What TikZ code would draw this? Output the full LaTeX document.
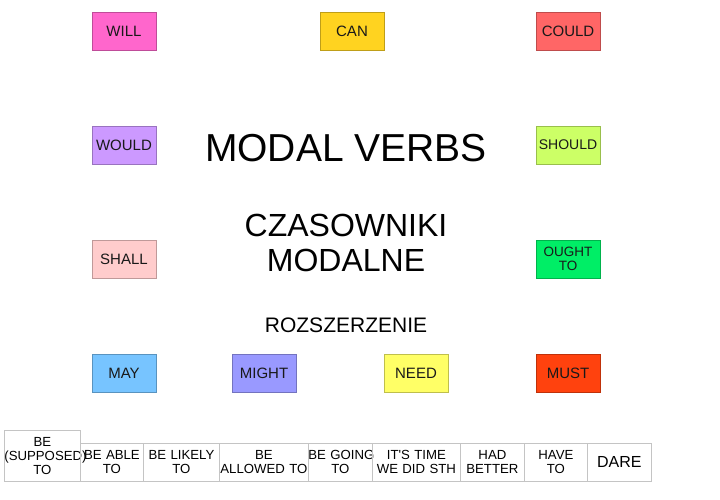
\documentclass[tikz,border=0pt]{standalone}
\usepackage{fontspec}
\setmainfont{Liberation Sans}
\definecolor{cwill}{HTML}{FF66CC}
\definecolor{ccan}{HTML}{FFD320}
\definecolor{ccould}{HTML}{FF6666}
\definecolor{cwould}{HTML}{CC99FF}
\definecolor{cshould}{HTML}{CCFF66}
\definecolor{cshall}{HTML}{FFCCCC}
\definecolor{cought}{HTML}{00EE66}
\definecolor{cmay}{HTML}{77C4FF}
\definecolor{cmight}{HTML}{9999FF}
\definecolor{cneed}{HTML}{FFFF66}
\definecolor{cmust}{HTML}{FF420E}
\definecolor{edgegray}{HTML}{C4C4C4}
\tikzset{
  x=1pt, y=-1pt,
  modal/.style={fill=#1, draw=#1!75!black, line width=0.6pt, minimum width=64pt, minimum height=38pt, inner sep=1pt, font=\fontsize{15}{16}\selectfont, align=center, text=black!90},
  extra/.style={draw=edgegray, line width=0.8pt, anchor=north west, inner xsep=0pt, inner ysep=0pt, align=center, text width=#1, minimum height=38pt, font=\fontsize{13.2}{14}\selectfont},
  title/.style={align=center, inner sep=0pt}
}
\begin{document}
\begin{tikzpicture}
\useasboundingbox (0,0) rectangle (720,500);
% colored modal boxes
\node[modal=cwill] (will) at (124,31) {WILL};
\node[modal=ccan] (can) at (352,31) {CAN};
\node[modal=ccould] (could) at (568,31) {COULD};
\node[modal=cwould] (would) at (124,145) {WOULD};
\node[modal=cshould, font=\fontsize{14}{15}\selectfont] (should) at (568,145) {SHOULD};
\node[modal=cshall] (shall) at (124,259) {SHALL};
\node[modal=cought, font=\fontsize{13.5}{14}\selectfont] (ought) at (568,259) {OUGHT\\TO};
\node[modal=cmay] (may) at (124,373) {MAY};
\node[modal=cmight] (might) at (264,373) {MIGHT};
\node[modal=cneed] (need) at (416,373) {NEED};
\node[modal=cmust] (must) at (568,373) {MUST};
% titles
\node[title, font=\fontsize{39}{40}\selectfont] (main) at (346,148) {MODAL VERBS};
\node[title, font=\fontsize{32}{35}\selectfont] (czas) at (346,243) {CZASOWNIKI\\MODALNE};
\node[title, font=\fontsize{21}{22}\selectfont] (rozs) at (346,325) {ROZSZERZENIE};
% extended list
\node[extra=76pt, minimum height=51pt] (supp) at (4,430) {\mbox{BE}\\\mbox{(SUPPOSED)}\\\mbox{TO}};
\node[extra=63pt] (able) at (80,443) {\mbox{BE ABLE}\\\mbox{TO}};
\node[extra=76pt] (likely) at (143,443) {\mbox{BE LIKELY}\\\mbox{TO}};
\node[extra=89pt] (allowed) at (219,443) {\mbox{BE}\\\mbox{ALLOWED TO}};
\node[extra=64pt] (going) at (308,443) {\mbox{BE GOING}\\\mbox{TO}};
\node[extra=88pt] (time) at (372,443) {\mbox{IT\textquotesingle S TIME}\\\mbox{WE DID STH}};
\node[extra=64pt] (better) at (460,443) {\mbox{HAD}\\\mbox{BETTER}};
\node[extra=63pt] (have) at (524,443) {\mbox{HAVE}\\\mbox{TO}};
\node[extra=64pt, font=\fontsize{16}{17}\selectfont] (dare) at (587,443) {\mbox{DARE}};
\end{tikzpicture}
\end{document}
